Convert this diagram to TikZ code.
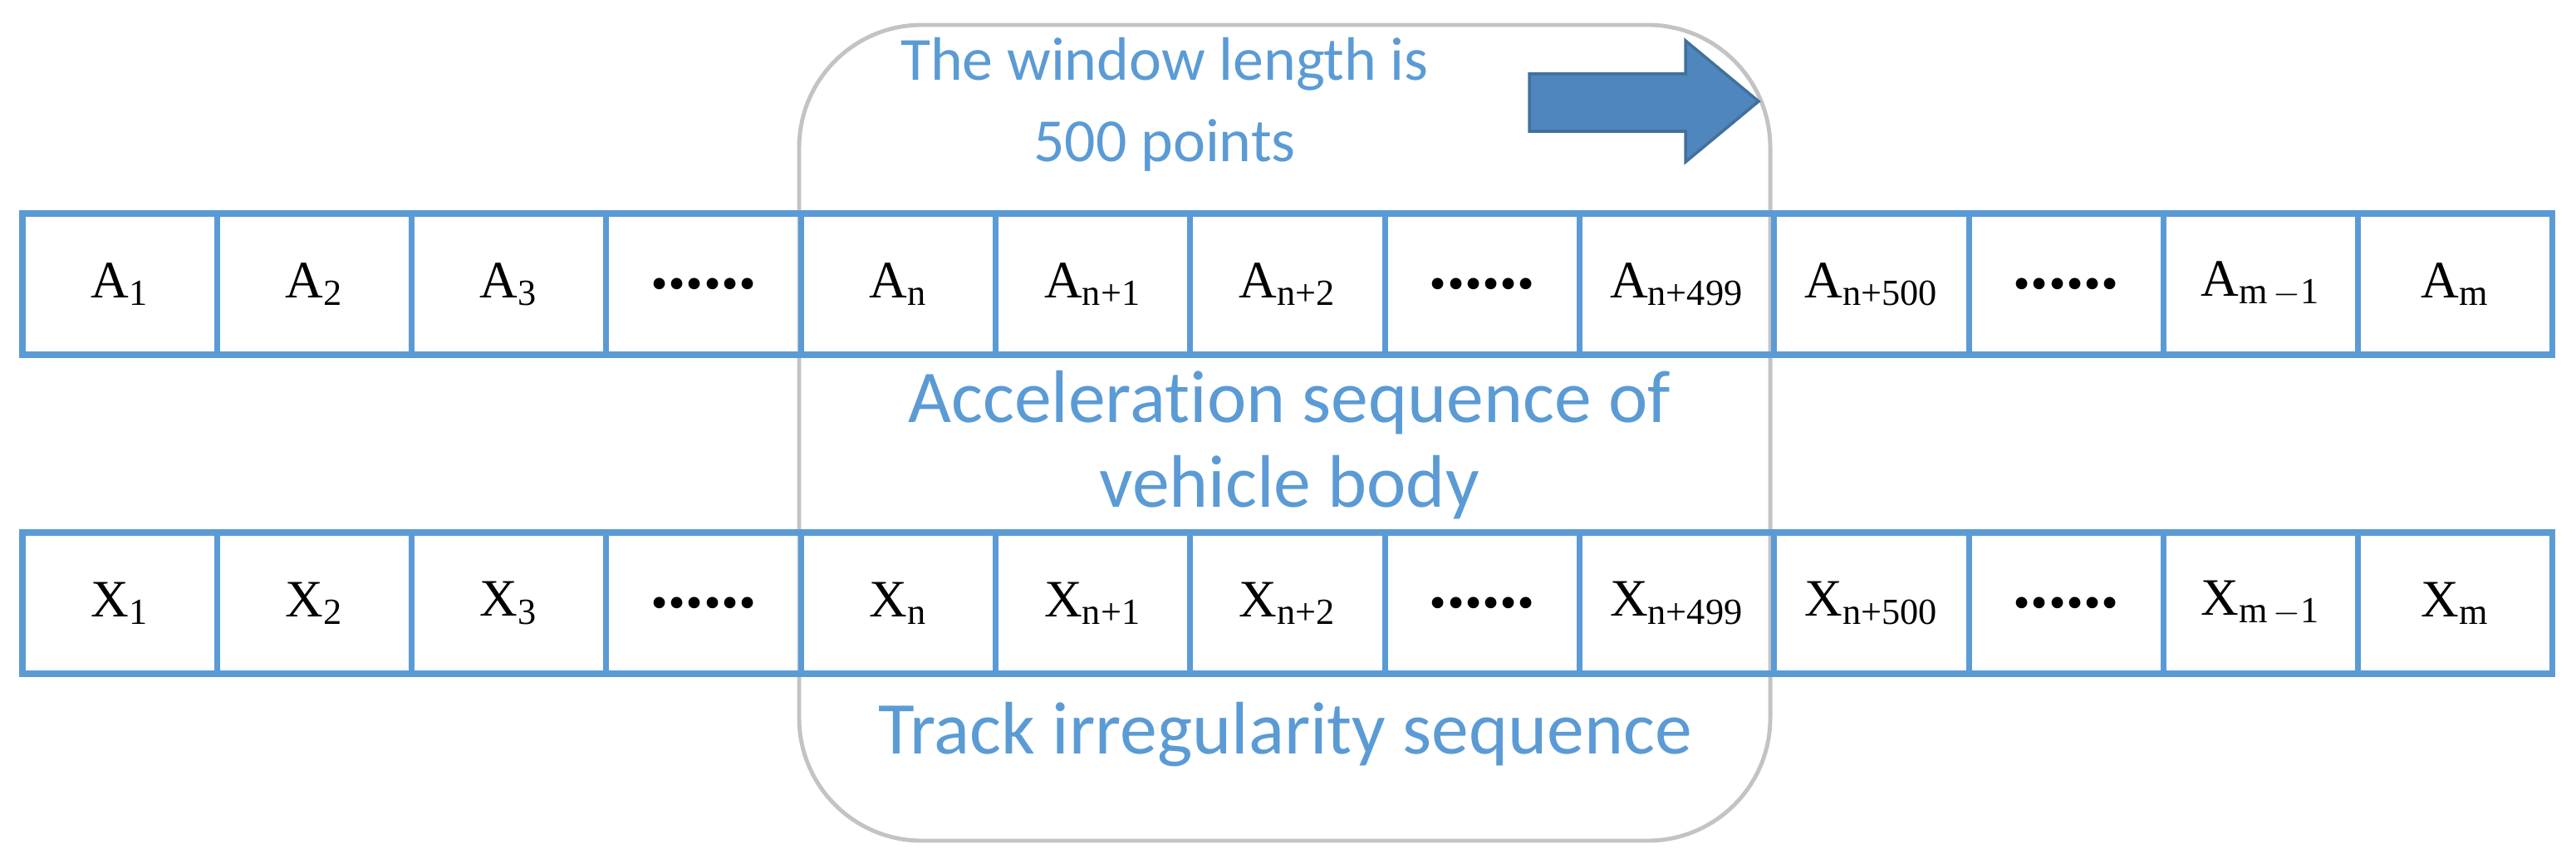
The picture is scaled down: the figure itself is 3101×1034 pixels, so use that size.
\documentclass[tikz,border=0pt]{standalone}
\usepackage{fontspec}
\setmainfont{Liberation Serif}
\newfontfamily\calfont{Carlito}[Ligatures=NoCommon]
\definecolor{cellblue}{HTML}{5B9BD5}
\definecolor{arrowfill}{HTML}{4F86BE}
\definecolor{arrowline}{HTML}{41719C}
\definecolor{wingrey}{HTML}{C3C3C3}
\begin{document}
\begin{tikzpicture}[x=0.01cm,y=-0.01cm,
  celltxt/.style={font=\fontsize{18}{20}\selectfont},
  lbl/.style={text=cellblue,font=\calfont\fontsize{21}{28}\selectfont,align=center},
  big/.style={text=cellblue,font=\calfont\fontsize{25.5}{29}\selectfont,align=center}]
\useasboundingbox (0,0) rectangle (3101,1034);
\def\cw{234.3}
\def\dd{{\fontsize{24}{24}\selectfont\textbf{......}}}
\draw[wingrey,line width=1.4pt,rounded corners=42pt] (962,30) rectangle (2131,1012);
\coordinate (winnw) at (962,30);
\foreach \t [count=\i] in {A\textsubscript{1},A\textsubscript{2},A\textsubscript{3},\dd,A\textsubscript{n},A\textsubscript{n+1},A\textsubscript{n+2},\dd,A\textsubscript{n+499},A\textsubscript{n+500},\dd,A\textsubscript{m\,$-$1},A\textsubscript{m}}{
  \draw[cellblue,line width=2pt] ({27+(\i-1)*\cw},257) rectangle ({27+\i*\cw},427);
  \node[celltxt] (a\i) at ({27+(\i-0.5)*\cw},342) {\t};
}
\foreach \t [count=\i] in {X\textsubscript{1},X\textsubscript{2},X\textsubscript{3},\dd,X\textsubscript{n},X\textsubscript{n+1},X\textsubscript{n+2},\dd,X\textsubscript{n+499},X\textsubscript{n+500},\dd,X\textsubscript{m\,$-$1},X\textsubscript{m}}{
  \draw[cellblue,line width=2pt] ({27+(\i-1)*\cw},641) rectangle ({27+\i*\cw},811);
  \node[celltxt] (x\i) at ({27+(\i-0.5)*\cw},726) {\t};
}
\node[lbl] (wl) at (1402,126) {The window length is\\500 points};
\node[big] (acc) at (1552,536) {Acceleration sequence of\\vehicle body};
\node[big] (trk) at (1547,884) {Track irregularity sequence};
\filldraw[fill=arrowfill,draw=arrowline,line width=1pt] (1841,89) -- (2029,89) -- (2029,49) -- (2117,122) -- (2029,195) -- (2029,158) -- (1841,158) -- cycle;
\end{tikzpicture}
\end{document}
